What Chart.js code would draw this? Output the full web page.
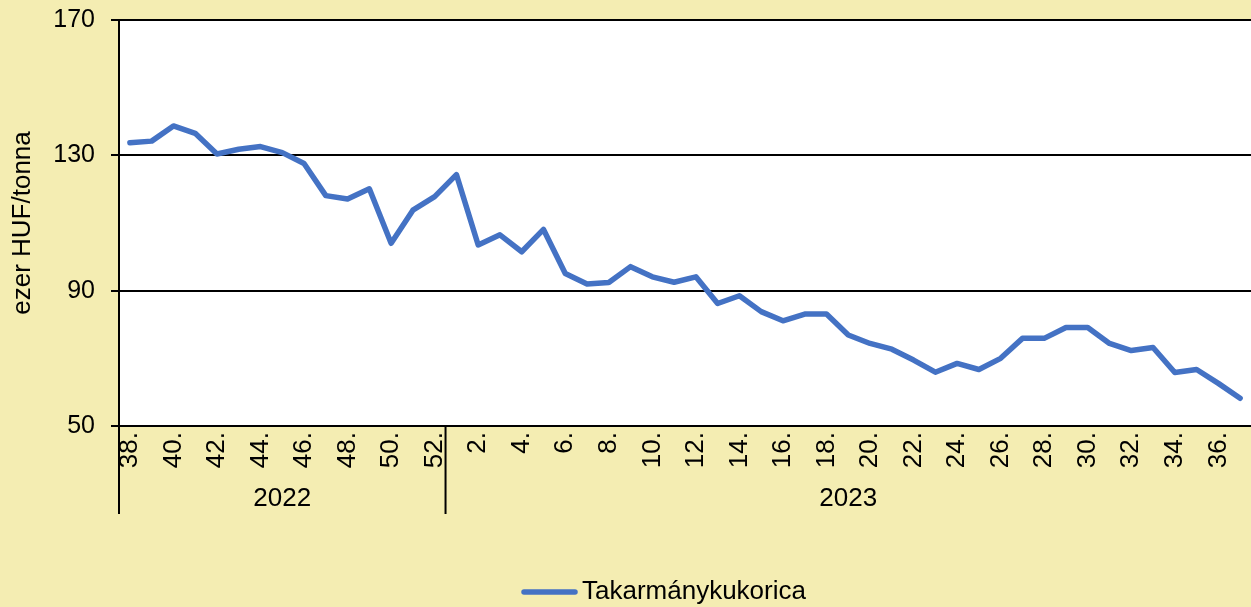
<!DOCTYPE html>
<html>
<head>
<meta charset="utf-8">
<script src="https://cdn.jsdelivr.net/npm/chart.js@4.4.1/dist/chart.umd.min.js"></script>
<style>
    html, body { margin: 0; padding: 0; background: #F4EDB2; }
    #wrap { width: 1251px; height: 607px; }
</style>
</head>
<body>
<div id="wrap"><canvas id="chart" width="1251" height="607"></canvas></div>
<script>
// Weeks (x categories)
const weeks2022 = [38, 39, 40, 41, 42, 43, 44, 45, 46, 47, 48, 49, 50, 51, 52];
const weeks2023 = [1, 2, 3, 4, 5, 6, 7, 8, 9, 10, 11, 12, 13, 14, 15, 16, 17, 18, 19,
    20, 21, 22, 23, 24, 25, 26, 27, 28, 29, 30, 31, 32, 33, 34, 35, 36, 37];
const years = ['2022', '2023'];

// Prices, thousand HUF / tonne
const values2022 = [133.7, 134.2, 138.7, 136.5, 130.4, 131.8, 132.6, 130.8, 127.6, 118.1,
    117.1, 120.1, 104.0, 113.8, 117.8];
const values2023 = [124.3, 103.5, 106.5, 101.5, 108.1, 95.1, 92.0, 92.4, 97.1, 94.1,
    92.5, 94.1, 86.2, 88.5, 83.8, 81.1, 83.1, 83.1, 76.9, 74.4,
    72.7, 69.5, 65.9, 68.5, 66.7, 70.0, 75.9, 75.9, 79.1, 79.1,
    74.4, 72.3, 73.2, 65.8, 66.7, 62.6, 58.2];

const seriesName = 'Takarmánykukorica';
const yTicks = [50, 90, 130, 170];

const labels = weeks2022.concat(weeks2023).map(w => w + '.');
const values = values2022.concat(values2023);

const FONT = 'Arial, "Liberation Sans", sans-serif';
Chart.defaults.font.family = FONT;
Chart.defaults.font.size = 26;
Chart.defaults.color = '#000';

// Backgrounds: yellow page, white plot area
const backgroundPlugin = {
    id: 'backgrounds',
    beforeDraw(chart) {
        const { ctx, chartArea: a } = chart;
        ctx.save();
        ctx.fillStyle = '#F4EDB2';
        ctx.fillRect(0, 0, chart.width, chart.height);
        ctx.fillStyle = '#FFFFFF';
        ctx.fillRect(a.left, a.top, a.right - a.left, a.bottom - a.top);
        ctx.restore();
    }
};

// Year group labels under the week ticks, plus separators
const yearGroupPlugin = {
    id: 'yearGroups',
    afterDraw(chart) {
        const { ctx, chartArea: a } = chart;
        const x = chart.scales.x;
        const split = (x.getPixelForValue(weeks2022.length - 1) + x.getPixelForValue(weeks2022.length)) / 2;
        const bottom = a.bottom + 88;

        ctx.save();
        ctx.strokeStyle = '#000';
        ctx.lineWidth = 2;
        ctx.beginPath();
        ctx.moveTo(a.left, a.bottom);
        ctx.lineTo(a.left, bottom);
        ctx.moveTo(split, a.bottom);
        ctx.lineTo(split, bottom);
        ctx.stroke();

        ctx.fillStyle = '#000';
        ctx.font = '26px ' + FONT;
        ctx.textAlign = 'center';
        ctx.textBaseline = 'middle';
        ctx.fillText(years[0], (a.left + split) / 2, a.bottom + 73);
        ctx.fillText(years[1], (split + a.right) / 2, a.bottom + 73);
        ctx.restore();
    }
};

// Legend drawn under the axis
const legendPlugin = {
    id: 'bottomLegend',
    afterDraw(chart) {
        const { ctx } = chart;
        const ds = chart.data.datasets[0];
        const y = 592;
        const x0 = 521;
        ctx.save();
        ctx.strokeStyle = ds.borderColor;
        ctx.lineWidth = ds.borderWidth;
        ctx.lineCap = 'round';
        ctx.beginPath();
        ctx.moveTo(x0 + 3, y);
        ctx.lineTo(x0 + 54, y);
        ctx.stroke();
        ctx.fillStyle = '#000';
        ctx.font = '26px ' + FONT;
        ctx.textAlign = 'left';
        ctx.textBaseline = 'middle';
        ctx.fillText(ds.label, x0 + 61, y);
        ctx.restore();
    }
};

new Chart(document.getElementById('chart'), {
    type: 'line',
    data: {
        labels,
        datasets: [{
            label: seriesName,
            data: values,
            borderColor: '#4472C4',
            backgroundColor: '#4472C4',
            borderWidth: 5.5,
            borderJoinStyle: 'round',
            borderCapStyle: 'round',
            pointRadius: 0,
            tension: 0
        }]
    },
    options: {
        responsive: false,
        animation: false,
        layout: { padding: { top: 20, right: 0, bottom: 0, left: 0 } },
        plugins: {
            legend: { display: false },
            tooltip: { enabled: false }
        },
        scales: {
            x: {
                type: 'category',
                offset: true,
                grid: { display: false, drawTicks: false },
                border: { display: true, color: '#000', width: 2 },
                ticks: {
                    autoSkip: false,
                    minRotation: 90,
                    maxRotation: 90,
                    padding: 6,
                    color: '#000',
                    font: { size: 26 },
                    callback: (value, index) => (index % 2 === 0 ? labels[index] : '')
                },
                afterFit: (scale) => {
                    scale.height = 181;
                    scale.paddingLeft = 0;
                    scale.paddingRight = 0;
                }
            },
            y: {
                min: 50,
                max: 170,
                afterBuildTicks: (scale) => { scale.ticks = yTicks.map(v => ({ value: v })); },
                grid: { color: '#000', lineWidth: 2, tickLength: 8, drawTicks: true },
                border: { display: true, color: '#000', width: 2 },
                ticks: { padding: 16, color: '#000', font: { size: 25 } },
                title: {
                    display: true,
                    text: 'ezer HUF/tonna',
                    color: '#000',
                    font: { size: 26 },
                    padding: { top: 7, bottom: 0 }
                },
                afterFit: (scale) => {
                    scale.width = 119;
                    scale.paddingTop = 0;
                    scale.paddingBottom = 0;
                }
            }
        }
    },
    plugins: [backgroundPlugin, yearGroupPlugin, legendPlugin]
});
</script>
</body>
</html>
